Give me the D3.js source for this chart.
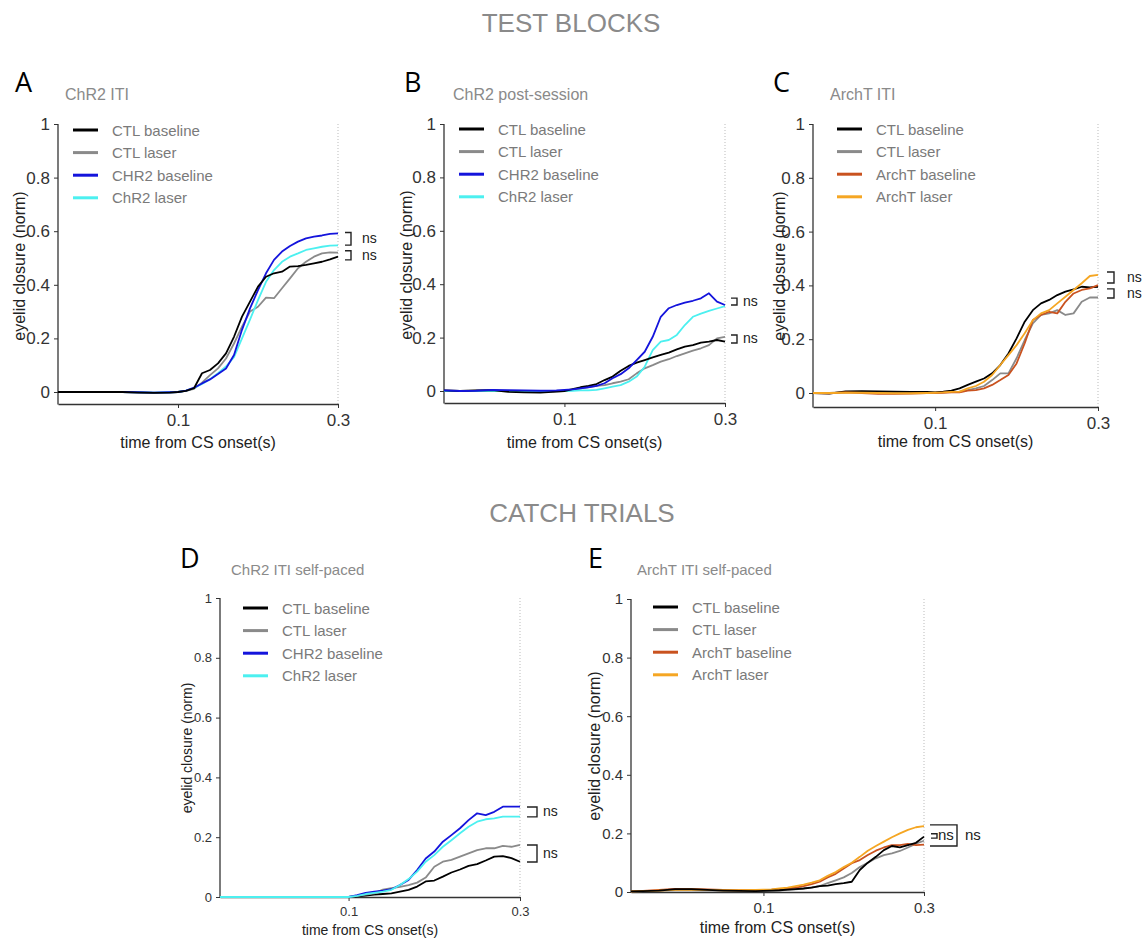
<!DOCTYPE html>
<html>
<head>
<meta charset="utf-8">
<script src="https://cdn.jsdelivr.net/npm/d3@7"></script>
<style>
body { margin: 0; background: #fff; }
svg text { font-family: "Liberation Sans", Arial, sans-serif; }
</style>
</head>
<body>
<svg id="fig" width="1144" height="939"></svg>
<script>
// time from CS onset (s)
var timeABCD = [-0.05, -0.03, -0.01, 0.01, 0.03, 0.05, 0.07, 0.09,
  0.10, 0.11, 0.12, 0.13, 0.14, 0.15, 0.16, 0.17, 0.18, 0.19, 0.20,
  0.21, 0.22, 0.23, 0.24, 0.25, 0.26, 0.27, 0.28, 0.29, 0.30];
var timeE = [-0.065, -0.05, -0.03, -0.01, 0.01, 0.03, 0.05, 0.07, 0.09,
  0.10, 0.11, 0.12, 0.13, 0.14, 0.15, 0.16, 0.17, 0.18, 0.19, 0.20,
  0.21, 0.22, 0.23, 0.24, 0.25, 0.26, 0.27, 0.28, 0.29, 0.30];

// A - ChR2 ITI
var ctlBaseA  = [0, 0, 0, 0, 0, -0.002, -0.003, -0.002, 0.000, 0.004, 0.014, 0.070, 0.082, 0.107, 0.144, 0.206, 0.281, 0.337, 0.393, 0.430, 0.443, 0.449, 0.468, 0.470, 0.474, 0.480, 0.486, 0.495, 0.505];
var ctlLaserA = [0, 0, 0, 0, 0, -0.001, -0.002, -0.001, 0.000, 0.004, 0.012, 0.035, 0.063, 0.088, 0.125, 0.181, 0.244, 0.300, 0.318, 0.352, 0.350, 0.387, 0.424, 0.462, 0.486, 0.505, 0.517, 0.521, 0.520];
var chr2BaseA = [0, 0, 0, 0, 0, -0.001, -0.002, -0.001, 0.000, 0.005, 0.016, 0.032, 0.047, 0.067, 0.088, 0.138, 0.232, 0.312, 0.380, 0.443, 0.493, 0.524, 0.545, 0.561, 0.573, 0.580, 0.584, 0.590, 0.592];
var chr2LaserA= [0, 0, 0, 0, 0, -0.001, -0.002, -0.001, 0.000, 0.005, 0.015, 0.030, 0.048, 0.070, 0.095, 0.130, 0.200, 0.270, 0.343, 0.411, 0.455, 0.486, 0.505, 0.517, 0.530, 0.536, 0.542, 0.546, 0.547];

// B - ChR2 post-session
var ctlBaseB  = [0.002, 0.000, 0.002, 0.003, -0.003, -0.005, -0.006, -0.002, 0.000, 0.007, 0.014, 0.019, 0.026, 0.041, 0.054, 0.076, 0.094, 0.106, 0.116, 0.126, 0.135, 0.144, 0.156, 0.166, 0.172, 0.181, 0.185, 0.191, 0.185];
var ctlLaserB = [0.001, 0.000, 0.001, 0.002, 0.000, -0.002, -0.003, -0.001, 0.000, 0.004, 0.010, 0.015, 0.019, 0.022, 0.029, 0.035, 0.044, 0.066, 0.085, 0.097, 0.110, 0.119, 0.131, 0.141, 0.151, 0.160, 0.172, 0.197, 0.203];
var chr2BaseB = [0.002, 0.000, 0.001, 0.004, 0.003, 0.002, 0.001, 0.002, 0.004, 0.006, 0.010, 0.014, 0.019, 0.029, 0.048, 0.063, 0.085, 0.116, 0.147, 0.203, 0.278, 0.310, 0.322, 0.331, 0.338, 0.347, 0.366, 0.335, 0.322];
var chr2LaserB= [0, 0, 0, 0, 0, 0, 0, 0, 0.000, 0.001, 0.002, 0.002, 0.004, 0.010, 0.016, 0.022, 0.035, 0.054, 0.091, 0.153, 0.185, 0.191, 0.210, 0.247, 0.278, 0.290, 0.300, 0.309, 0.318];

// C - ArchT ITI
var ctlBaseC  = [0, -0.002, 0.006, 0.007, 0.006, 0.005, 0.004, 0.004, 0.002, 0.005, 0.009, 0.017, 0.030, 0.042, 0.054, 0.073, 0.104, 0.147, 0.203, 0.265, 0.308, 0.333, 0.346, 0.364, 0.377, 0.385, 0.395, 0.393, 0.395];
var ctlLaserC = [0, 0, 0.003, 0.003, 0.002, 0.002, 0.002, 0.002, 0.002, 0.003, 0.004, 0.005, 0.011, 0.017, 0.026, 0.048, 0.073, 0.073, 0.129, 0.197, 0.259, 0.290, 0.296, 0.308, 0.290, 0.296, 0.339, 0.355, 0.355];
var archBaseC = [0, -0.001, 0.002, 0.000, -0.003, -0.003, -0.002, 0.000, 0.000, 0.001, 0.002, 0.002, 0.009, 0.011, 0.017, 0.030, 0.048, 0.067, 0.110, 0.185, 0.271, 0.290, 0.302, 0.296, 0.339, 0.370, 0.383, 0.389, 0.401];
var archLaserC= [0, 0, 0.001, 0.001, 0.000, -0.001, -0.001, 0.000, 0.001, 0.002, 0.004, 0.005, 0.017, 0.026, 0.042, 0.067, 0.104, 0.141, 0.178, 0.222, 0.271, 0.296, 0.308, 0.333, 0.358, 0.383, 0.408, 0.435, 0.439];

// D - ChR2 ITI self-paced
var ctlBaseD  = [0, 0, 0, 0, 0, 0, 0, 0, 0.000, 0.002, 0.005, 0.008, 0.010, 0.012, 0.018, 0.024, 0.035, 0.052, 0.055, 0.068, 0.082, 0.092, 0.104, 0.110, 0.122, 0.135, 0.137, 0.130, 0.118];
var ctlLaserD = [0, 0, 0, 0, 0, 0, 0, 0, 0.000, 0.004, 0.008, 0.012, 0.025, 0.030, 0.034, 0.040, 0.048, 0.065, 0.101, 0.118, 0.124, 0.135, 0.146, 0.157, 0.163, 0.163, 0.171, 0.168, 0.174];
var chr2BaseD = [0, 0, 0, 0, 0, 0, 0, 0, 0.000, 0.006, 0.014, 0.018, 0.021, 0.026, 0.040, 0.057, 0.090, 0.129, 0.152, 0.185, 0.207, 0.230, 0.257, 0.280, 0.274, 0.285, 0.302, 0.302, 0.302];
var chr2LaserD= [0, 0, 0, 0, 0, 0, 0, 0, 0.000, 0.004, 0.010, 0.014, 0.018, 0.024, 0.040, 0.060, 0.085, 0.118, 0.140, 0.168, 0.190, 0.213, 0.235, 0.252, 0.260, 0.263, 0.269, 0.269, 0.269];

// E - ArchT ITI self-paced
var ctlBaseE  = [0.002, 0.003, 0.005, 0.010, 0.010, 0.007, 0.005, 0.004, 0.003, 0.004, 0.005, 0.006, 0.008, 0.010, 0.012, 0.015, 0.020, 0.022, 0.027, 0.030, 0.035, 0.075, 0.100, 0.120, 0.143, 0.157, 0.152, 0.160, 0.168, 0.189];
var ctlLaserE = [0.002, 0.003, 0.004, 0.006, 0.006, 0.005, 0.004, 0.003, 0.003, 0.003, 0.004, 0.005, 0.007, 0.009, 0.012, 0.016, 0.020, 0.030, 0.040, 0.050, 0.065, 0.085, 0.100, 0.115, 0.126, 0.132, 0.140, 0.152, 0.165, 0.175];
var archBaseE = [0.002, 0.004, 0.007, 0.011, 0.011, 0.009, 0.007, 0.006, 0.006, 0.007, 0.008, 0.010, 0.012, 0.015, 0.020, 0.027, 0.035, 0.050, 0.062, 0.080, 0.098, 0.109, 0.126, 0.141, 0.152, 0.160, 0.160, 0.164, 0.160, 0.162];
var archLaserE= [0.002, 0.003, 0.005, 0.007, 0.008, 0.007, 0.006, 0.006, 0.007, 0.008, 0.009, 0.012, 0.015, 0.020, 0.025, 0.032, 0.040, 0.055, 0.068, 0.085, 0.100, 0.120, 0.141, 0.157, 0.172, 0.187, 0.200, 0.212, 0.221, 0.225];

var legendChR2  = ["CTL baseline", "CTL laser", "CHR2 baseline", "ChR2 laser"];
var legendArchT = ["CTL baseline", "CTL laser", "ArchT baseline", "ArchT laser"];
var yTicks = [0, 0.2, 0.4, 0.6, 0.8, 1];
var xTicks = [0.1, 0.3];

// "ns" comparison brackets, as [top, bottom] in eyelid closure units
var nsA = [[0.595, 0.548], [0.527, 0.493]];
var nsB = [[0.348, 0.322], [0.210, 0.180]];
var nsC = [[0.450, 0.409], [0.387, 0.353]];
var nsD = [[0.301, 0.268], [0.174, 0.117]];
var nsE = [[0.229, 0.157], [0.199, 0.184]];

var chr2Colors  = ["#000000", "#8a8a8a", "#1414dc", "#4cf0f0"];
var archColors  = ["#000000", "#8a8a8a", "#c9521f", "#f5a623"];

var panels = [
  { letter: "A", lx: 15, ly: 92, title: "ChR2 ITI", tx: 65, ty: 100,
    time: timeABCD, series: [ctlBaseA, ctlLaserA, chr2BaseA, chr2LaserA], names: legendChR2, colors: chr2Colors, order: [1, 3, 2, 0],
    left: 58, right: 338, top: 124, zero: 392, axisY: 404, xmin: -0.05,
    legX: 73, legRow: 130, ylabX: 19, ylabY: 266, xlabY: 448,
    tickFs: 17, labFs: 16, titleFs: 16,
    ns: nsA, nsBox: [{x0: 345, x1: 351, t: 362, fs: 14}, {x0: 345, x1: 351, t: 362, fs: 14}] },
  { letter: "B", lx: 404, ly: 92, title: "ChR2 post-session", tx: 453, ty: 100,
    time: timeABCD, series: [ctlBaseB, ctlLaserB, chr2BaseB, chr2LaserB], names: legendChR2, colors: chr2Colors, order: [1, 3, 0, 2],
    left: 444, right: 725, top: 124, zero: 391, axisY: 403, xmin: -0.05,
    legX: 459, legRow: 129, ylabX: 406, ylabY: 265, xlabY: 448,
    tickFs: 17, labFs: 16, titleFs: 16,
    ns: nsB, nsBox: [{x0: 731, x1: 737, t: 743, fs: 14}, {x0: 731, x1: 737, t: 743, fs: 14}] },
  { letter: "C", lx: 773, ly: 92, title: "ArchT ITI", tx: 830, ty: 100,
    time: timeABCD, series: [ctlBaseC, ctlLaserC, archBaseC, archLaserC], names: legendArchT, colors: archColors, order: [1, 0, 2, 3],
    left: 813, right: 1098, top: 124, zero: 393, axisY: 407, xmin: -0.05,
    legX: 837, legRow: 129, ylabX: 779, ylabY: 266, xlabY: 447,
    tickFs: 17, labFs: 16, titleFs: 16,
    ns: nsC, nsBox: [{x0: 1107, x1: 1114, t: 1127, fs: 14}, {x0: 1107, x1: 1114, t: 1127, fs: 14}] },
  { letter: "D", lx: 180, ly: 568, title: "ChR2 ITI self-paced", tx: 231, ty: 575,
    time: timeABCD, series: [ctlBaseD, ctlLaserD, chr2BaseD, chr2LaserD], names: legendChR2, colors: chr2Colors, order: [0, 1, 2, 3],
    left: 220, right: 520, top: 598, zero: 897, axisY: 897, xmin: -0.05,
    legX: 243, legRow: 608, ylabX: 187, ylabY: 748, xlabY: 935,
    tickFs: 13, labFs: 14, titleFs: 15,
    ns: nsD, nsBox: [{x0: 527, x1: 537, t: 543, fs: 14}, {x0: 527, x1: 537, t: 543, fs: 14}] },
  { letter: "E", lx: 588, ly: 568, title: "ArchT ITI self-paced", tx: 637, ty: 575,
    time: timeE, series: [ctlBaseE, ctlLaserE, archBaseE, archLaserE], names: legendArchT, colors: archColors, order: [1, 2, 3, 0],
    left: 631, right: 924, top: 599, zero: 892, axisY: 892, xmin: -0.065,
    legX: 653, legRow: 607, ylabX: 594, ylabY: 746, xlabY: 933,
    tickFs: 15, labFs: 16, titleFs: 15,
    ns: nsE, nsBox: [{x0: 930, x1: 957, t: 965, fs: 15}, {x0: 931, x1: 937, t: 938, fs: 15}] }
];

var svg = d3.select("#fig");

svg.append("text").attr("x", 571).attr("y", 32).attr("text-anchor", "middle")
  .attr("font-size", 26).attr("fill", "#8a8a8a").text("TEST BLOCKS");
svg.append("text").attr("x", 582).attr("y", 522).attr("text-anchor", "middle")
  .attr("font-size", 26).attr("fill", "#8a8a8a").text("CATCH TRIALS");

panels.forEach(function (p) {
  var g = svg.append("g");

  var x = d3.scaleLinear().domain([p.xmin, 0.3]).range([p.left, p.right]);
  var y = d3.scaleLinear().domain([0, 1]).range([p.zero, p.top]);

  // panel letter + title
  g.append("text").attr("x", p.lx).attr("y", p.ly)
    .attr("font-size", 27).attr("fill", "#000").style("font-family", "'Open Sans', sans-serif").text(p.letter);
  g.append("text").attr("x", p.tx).attr("y", p.ty)
    .attr("font-size", p.titleFs).attr("fill", "#8a8a8a").text(p.title);

  // dotted line at end of trace window
  g.append("line")
    .attr("x1", x(0.3)).attr("x2", x(0.3))
    .attr("y1", y(1)).attr("y2", p.axisY)
    .attr("stroke", "#bbb").attr("stroke-width", 1).attr("stroke-dasharray", "1,2");

  // y axis
  var gy = g.append("g").attr("transform", "translate(" + p.left + ",0)")
    .call(d3.axisLeft(y).tickValues(yTicks).tickSize(4).tickSizeOuter(0).tickPadding(4)
      .tickFormat(function (d) { return String(d); }));
  gy.select(".domain").remove();
  gy.selectAll("line").attr("stroke", "#333");
  gy.selectAll("text").attr("font-size", p.tickFs).attr("fill", "#333");
  g.append("line").attr("x1", p.left).attr("x2", p.left)
    .attr("y1", y(1)).attr("y2", p.axisY + 0.5)
    .attr("stroke", "#333").attr("stroke-width", 1.3);

  // x axis
  var gx = g.append("g").attr("transform", "translate(0," + p.axisY + ")")
    .call(d3.axisBottom(x).tickValues(xTicks).tickSize(4).tickSizeOuter(0).tickPadding(6)
      .tickFormat(function (d) { return String(d); }));
  gx.select(".domain").attr("stroke", "#333").attr("stroke-width", 1.3);
  gx.selectAll("line").attr("stroke", "#333");
  gx.selectAll("text").attr("font-size", p.tickFs).attr("fill", "#333");

  // axis labels
  g.append("text").attr("x", (p.left + p.right) / 2).attr("y", p.xlabY)
    .attr("text-anchor", "middle").attr("font-size", p.labFs).attr("fill", "#222")
    .text("time from CS onset(s)");
  g.append("text")
    .attr("transform", "translate(" + p.ylabX + "," + p.ylabY + ") rotate(-90)")
    .attr("text-anchor", "middle").attr("dominant-baseline", "central")
    .attr("font-size", p.labFs).attr("fill", "#222")
    .text("eyelid closure (norm)");

  // traces
  var line = d3.line()
    .x(function (d, i) { return x(p.time[i]); })
    .y(function (d) { return y(d); });
  p.order.forEach(function (k) {
    g.append("path").datum(p.series[k])
      .attr("fill", "none").attr("stroke", p.colors[k])
      .attr("stroke-width", 1.8).attr("stroke-linejoin", "round")
      .attr("d", line);
  });

  // legend
  p.names.forEach(function (name, i) {
    var ry = p.legRow + i * 22.6;
    g.append("line").attr("x1", p.legX).attr("x2", p.legX + 25)
      .attr("y1", ry).attr("y2", ry)
      .attr("stroke", p.colors[i]).attr("stroke-width", 3);
    g.append("text").attr("x", p.legX + 39).attr("y", ry + 5.5)
      .attr("font-size", 15).attr("fill", "#7a7a7a").text(name);
  });

  // ns brackets
  p.ns.forEach(function (pair, i) {
    var b = p.nsBox[i];
    var y1 = y(pair[0]), y2 = y(pair[1]);
    g.append("path")
      .attr("d", "M" + b.x0 + "," + y1 + "H" + b.x1 + "V" + y2 + "H" + b.x0)
      .attr("fill", "none").attr("stroke", "#222").attr("stroke-width", 1.4);
    g.append("text").attr("x", b.t).attr("y", (y1 + y2) / 2 + 4.5)
      .attr("font-size", b.fs).attr("fill", "#222").text("ns");
  });
});
</script>
</body>
</html>
